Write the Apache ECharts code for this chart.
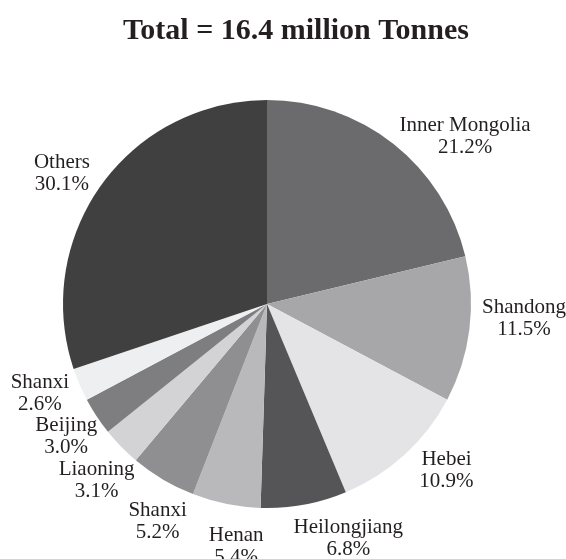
<!DOCTYPE html>
<html>
<head>
<meta charset="utf-8">
<script src="https://cdn.jsdelivr.net/npm/echarts@6/dist/echarts.min.js"></script>
<style>
  html, body { margin: 0; padding: 0; background: #ffffff; }
  #chart { width: 566px; height: 559px; }
</style>
</head>
<body>
<div id="chart"></div>
<script>
// Regional shares of the 16.4 million tonne total, clockwise from 12 o'clock
const regions = ['Inner Mongolia', 'Shandong', 'Hebei', 'Heilongjiang', 'Henan',
                 'Shanxi', 'Liaoning', 'Beijing', 'Shanxi', 'Others'];
const shares = [21.2, 11.5, 10.9, 6.8, 5.4, 5.2, 3.1, 3.0, 2.6, 30.1];
const sliceColors = ['#6b6b6e', '#a7a7a9', '#e4e4e6', '#555558', '#b9b9bb',
                     '#8f8f92', '#d3d3d5', '#7e7e81', '#eeeff1', '#404040'];
// Small per-label nudges [dx, dy] away from the default outside anchor
const labelNudges = [[47, 24], [15, -16], [15, -14], [37, -5], [18, 3],
                     [15, 8], [4, 6], [3, -2], [-3, -7], [-7, 12]];

const chart = echarts.init(document.getElementById('chart'), null, { renderer: 'canvas' });

const seriesData = regions.map((name, i) => ({
  name: name,
  value: shares[i],
  itemStyle: { color: sliceColors[i] },
  label: { formatter: name + '\n' + shares[i].toFixed(1) + '%' }
}));

chart.setOption({
  backgroundColor: '#ffffff',
  animation: false,
  title: {
    text: 'Total = 16.4 million Tonnes',
    left: 291,
    textAlign: 'center',
    top: 11,
    textStyle: {
      fontFamily: 'Liberation Serif',
      fontWeight: 'bold',
      fontSize: 30,
      color: '#231f20'
    }
  },
  series: [{
    type: 'pie',
    center: [267, 304],
    radius: 204,
    startAngle: 90,
    clockwise: true,
    avoidLabelOverlap: false,
    data: seriesData,
    label: {
      show: true,
      position: 'outside',
      distanceToLabelLine: 0,
      fontFamily: 'Liberation Serif',
      fontSize: 21,
      lineHeight: 22,
      color: '#231f20'
    },
    labelLine: { show: false, length: 40, length2: 0 },
    labelLayout: function (params) {
      const n = labelNudges[params.dataIndex];
      return {
        align: 'center',
        verticalAlign: 'middle',
        dx: n[0],
        dy: n[1],
        hideOverlap: false
      };
    },
    emphasis: { disabled: true }
  }]
});
</script>
</body>
</html>
